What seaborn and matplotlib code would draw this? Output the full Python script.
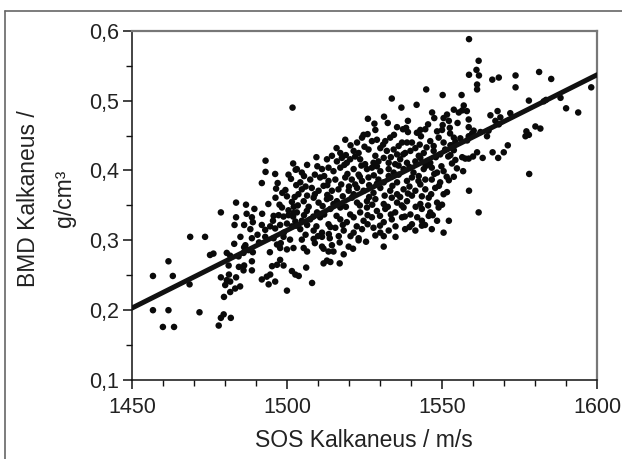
import numpy as np
import pandas as pd
import matplotlib.pyplot as plt
import matplotlib.ticker as mticker
from matplotlib.lines import Line2D
import seaborn as sns

# values (SOS in m/s, BMD in g/cm3) ----
sos = [
    1501.8, 1544.9, 1550.2, 1533.8, 1541.8, 1536.9, 1546.8, 1531.3, 1526.1, 1528.2,
    1550.5, 1550.2, 1537.4, 1538.4, 1543.0, 1544.6, 1541.9, 1524.7, 1548.4, 1550.0,
    1558.7, 1561.8, 1561.1, 1558.7, 1561.9, 1561.3, 1561.3, 1566.2, 1568.3, 1573.7,
    1573.7, 1581.3, 1585.2, 1598.1, 1556.3, 1557.0, 1553.8, 1555.4, 1556.5, 1558.0,
    1551.6, 1552.2, 1558.6, 1578.0, 1582.8, 1583.5, 1588.2, 1590.0, 1593.9, 1567.9,
    1565.6, 1568.8, 1572.0, 1577.2, 1580.1, 1581.7, 1578.0, 1558.6, 1560.2, 1559.7,
    1562.4, 1565.0, 1567.2, 1568.3,
    # left part, upper
    1493.1, 1493.1, 1496.2, 1502.8, 1501.3, 1491.9, 1496.5, 1496.3, 1500.0, 1497.6,
    1498.4, 1501.6, 1502.2, 1483.6, 1486.8, 1478.7, 1483.6, 1483.1, 1486.2, 1488.7,
    1489.0, 1488.2, 1491.9, 1495.7, 1497.3, 1498.9, 1500.5, 1502.1, 1494.6, 1496.2,
    1497.8, 1500.0, 1501.6, 1502.7,
    # left part, lower
    1468.8, 1473.6, 1461.8, 1456.8, 1463.2, 1456.8, 1461.8, 1460.0, 1463.6, 1471.8,
    1468.6, 1475.2, 1476.3, 1478.7, 1481.3, 1480.6, 1481.7, 1480.1, 1483.6, 1479.7,
    1481.7, 1483.3, 1484.9, 1479.6, 1478.7, 1481.9, 1478.0, 1483.0, 1486.6, 1488.7,
    1480.6, 1481.7, 1484.4, 1486.2, 1487.6, 1486.0, 1488.7, 1486.2, 1486.0, 1488.7,
    1481.2, 1493.0, 1495.7, 1498.9, 1501.0, 1496.8, 1497.8, 1500.0, 1502.1, 1495.2,
    1496.8, 1497.8, 1498.9, 1501.6, 1502.7, 1491.9, 1493.5, 1494.6, 1494.1, 1496.2,
    1500.0,
    # middle, lower
    1504.8, 1505.4, 1506.5, 1508.6, 1511.3, 1513.8, 1516.7, 1523.1, 1523.1, 1531.2,
    1531.2, 1511.3, 1511.8, 1513.4, 1515.0, 1518.3, 1519.9, 1521.3, 1506.2, 1503.8,
    1508.1, 1511.8, 1512.9, 1514.0, 1517.0,
    # right part, middle
    1578.1, 1571.2, 1576.9, 1566.3, 1569.9, 1568.1, 1563.1, 1561.3, 1560.0, 1558.6,
    1557.5, 1556.5, 1558.7, 1561.8, 1552.2, 1551.6, 1552.2, 1553.8, 1556.8, 1554.8,
    1553.2, 1554.3, 1552.7, 1553.8, 1552.7, 1554.3, 1555.9, 1558.1, 1553.8, 1558.6,
    1564.5,
    # dense centre
    1518.8, 1522.6, 1524.2, 1527.4, 1529.0, 1531.7, 1533.3, 1537.1, 1538.7, 1540.3,
    1546.2, 1547.3, 1548.9, 1550.5,
    1517.2, 1521.5, 1523.1, 1526.3, 1530.1, 1532.2, 1534.4, 1535.5, 1538.1, 1539.8,
    1541.4, 1544.1, 1547.3, 1549.4, 1551.0,
    1512.9, 1516.1, 1517.7, 1519.3, 1520.4, 1523.6, 1525.2, 1527.9, 1529.5, 1531.2,
    1532.8, 1534.9, 1536.5, 1538.7, 1541.4, 1543.0, 1544.6, 1546.2,
    1503.2, 1504.8, 1511.3, 1513.4, 1515.0, 1517.2, 1521.5, 1523.1, 1525.8, 1527.4,
    1530.1, 1532.8, 1534.4, 1537.6, 1540.8, 1544.1, 1546.7, 1548.4, 1550.5,
    1504.3, 1507.5, 1510.7, 1513.4, 1515.6, 1518.8, 1520.9, 1522.0, 1524.2, 1526.3,
    1529.5, 1531.2, 1532.8, 1535.5, 1538.7, 1540.3, 1542.4, 1544.6, 1546.7, 1549.4,
    1503.7, 1504.8, 1508.0, 1510.2, 1511.8, 1514.5, 1516.6, 1519.9, 1522.6, 1524.7,
    1527.9, 1530.1, 1533.3, 1535.5, 1537.6, 1541.4, 1544.6, 1547.8, 1550.5,
    1505.4, 1508.6, 1510.2, 1512.9, 1514.0, 1516.1, 1517.7, 1520.9, 1522.6, 1525.8,
    1528.5, 1531.2, 1533.8, 1535.5, 1538.7, 1540.3, 1543.0, 1545.7, 1548.4,
    1503.2, 1506.4, 1509.7, 1514.0, 1517.2, 1520.4, 1523.6, 1525.8, 1529.0, 1531.7,
    1534.9, 1537.6, 1539.8, 1543.5, 1546.2, 1548.9,
    1504.8, 1507.5, 1510.7, 1513.4, 1517.2, 1519.3, 1524.7, 1527.4, 1531.2, 1533.8,
    1537.1, 1540.3, 1543.5, 1545.7, 1548.4,
    1504.3, 1508.6, 1511.3, 1515.6, 1518.3, 1521.5, 1524.2, 1527.9, 1530.1, 1532.8,
    1538.1, 1541.4, 1543.5, 1546.7, 1550.5,
    # more points in between, dense centre
    1526.0, 1534.5, 1543.2, 1552.6, 1539.0,
    1520.5, 1525.0, 1531.0, 1536.0, 1542.8, 1545.0, 1553.0, 1516.0,
    1514.5, 1519.0, 1522.0, 1528.5, 1533.5, 1537.5, 1542.5, 1548.0, 1552.0, 1509.5,
    1506.5, 1509.8, 1518.5, 1524.0, 1529.0, 1536.0, 1539.5, 1545.0, 1549.8, 1502.0,
    1505.5, 1509.0, 1512.0, 1519.5, 1523.5, 1528.0, 1536.0, 1542.5, 1547.5, 1551.5, 1500.5,
    1503.0, 1506.0, 1513.0, 1517.5, 1520.0, 1526.5, 1529.0, 1534.0, 1539.5, 1543.0, 1549.0,
    1502.5, 1506.5, 1509.0, 1513.0, 1518.0, 1521.5, 1526.5, 1531.5, 1536.5, 1539.0, 1543.5,
    1546.5, 1498.5,
    1503.5, 1507.0, 1511.5, 1515.0, 1519.0, 1523.5, 1527.5, 1532.5, 1537.0, 1541.5, 1545.5,
    1550.0,
    1502.0, 1505.5, 1508.5, 1512.0, 1516.0, 1521.5, 1526.0, 1530.0, 1533.5, 1538.0, 1542.0,
    1547.0,
    1503.0, 1506.5, 1509.5, 1514.0, 1518.0, 1522.5, 1526.0, 1530.0, 1535.0, 1539.5, 1544.5,
    1506.0, 1510.0, 1513.5, 1517.0, 1520.5, 1525.5, 1528.5, 1535.0, 1509.0, 1514.5,
    # more points, left part
    1489.5, 1492.0, 1494.0, 1490.5, 1493.0, 1495.5, 1499.0, 1491.0, 1485.0, 1487.0,
    1484.5, 1489.0, 1494.5, 1498.0, 1500.5, 1497.0, 1499.5,
    # more points, upper band
    1532.5, 1539.0, 1545.5, 1552.5, 1528.5, 1535.5, 1547.5, 1555.0,
]

bmd = [
    0.490, 0.516, 0.508, 0.503, 0.494, 0.490, 0.483, 0.477, 0.474, 0.467,
    0.475, 0.465, 0.459, 0.461, 0.458, 0.459, 0.454, 0.451, 0.456, 0.458,
    0.588, 0.557, 0.544, 0.537, 0.536, 0.523, 0.516, 0.530, 0.533, 0.536,
    0.519, 0.541, 0.531, 0.519, 0.508, 0.493, 0.487, 0.483, 0.486, 0.485,
    0.480, 0.471, 0.473, 0.500, 0.499, 0.501, 0.504, 0.489, 0.483, 0.485,
    0.479, 0.476, 0.482, 0.456, 0.463, 0.460, 0.451, 0.462, 0.457, 0.453,
    0.455, 0.457, 0.471, 0.466,
    0.414, 0.398, 0.395, 0.401, 0.388, 0.382, 0.374, 0.361, 0.363, 0.351,
    0.347, 0.355, 0.348, 0.354, 0.351, 0.340, 0.333, 0.322, 0.322, 0.333,
    0.326, 0.316, 0.322, 0.335, 0.336, 0.334, 0.336, 0.339, 0.320, 0.317,
    0.322, 0.324, 0.320, 0.327,
    0.305, 0.305, 0.270, 0.249, 0.249, 0.200, 0.200, 0.176, 0.176, 0.197,
    0.237, 0.279, 0.281, 0.247, 0.251, 0.243, 0.241, 0.236, 0.247, 0.219,
    0.226, 0.231, 0.234, 0.194, 0.189, 0.189, 0.178, 0.295, 0.293, 0.303,
    0.282, 0.278, 0.277, 0.290, 0.286, 0.282, 0.270, 0.264, 0.257, 0.257,
    0.264, 0.305, 0.303, 0.305, 0.301, 0.294, 0.289, 0.287, 0.289, 0.263,
    0.265, 0.272, 0.264, 0.256, 0.251, 0.244, 0.248, 0.251, 0.237, 0.241,
    0.228,
    0.301, 0.289, 0.284, 0.302, 0.305, 0.303, 0.306, 0.303, 0.300, 0.306,
    0.291, 0.291, 0.288, 0.284, 0.284, 0.280, 0.291, 0.288, 0.261, 0.249,
    0.239, 0.267, 0.271, 0.269, 0.267,
    0.395, 0.436, 0.449, 0.426, 0.426, 0.418, 0.418, 0.426, 0.420, 0.417,
    0.417, 0.419, 0.371, 0.340, 0.328, 0.369, 0.386, 0.391, 0.399, 0.403,
    0.410, 0.415, 0.422, 0.429, 0.436, 0.441, 0.446, 0.443, 0.447, 0.449,
    0.449,
    0.444, 0.440, 0.447, 0.442, 0.444, 0.442, 0.447, 0.440, 0.440, 0.440,
    0.442, 0.435, 0.447, 0.440,
    0.425, 0.428, 0.425, 0.430, 0.432, 0.428, 0.430, 0.423, 0.425, 0.428,
    0.432, 0.425, 0.428, 0.423, 0.430,
    0.416, 0.413, 0.418, 0.411, 0.416, 0.416, 0.409, 0.411, 0.413, 0.418,
    0.411, 0.409, 0.416, 0.411, 0.413, 0.418, 0.409, 0.411,
    0.402, 0.397, 0.402, 0.404, 0.399, 0.404, 0.402, 0.394, 0.402, 0.404,
    0.399, 0.402, 0.397, 0.402, 0.397, 0.402, 0.404, 0.397, 0.399,
    0.383, 0.387, 0.390, 0.385, 0.387, 0.390, 0.387, 0.380, 0.385, 0.390,
    0.387, 0.383, 0.392, 0.383, 0.385, 0.390, 0.385, 0.387, 0.387, 0.383,
    0.366, 0.373, 0.375, 0.371, 0.378, 0.371, 0.373, 0.371, 0.375, 0.371,
    0.368, 0.375, 0.371, 0.366, 0.373, 0.371, 0.373, 0.375, 0.366,
    0.356, 0.361, 0.354, 0.359, 0.361, 0.356, 0.352, 0.361, 0.354, 0.356,
    0.359, 0.352, 0.361, 0.354, 0.356, 0.364, 0.352, 0.361, 0.354,
    0.340, 0.342, 0.340, 0.345, 0.347, 0.337, 0.340, 0.347, 0.342, 0.345,
    0.340, 0.347, 0.337, 0.345, 0.340, 0.347,
    0.328, 0.330, 0.333, 0.323, 0.330, 0.326, 0.328, 0.333, 0.326, 0.330,
    0.333, 0.323, 0.328, 0.335, 0.328,
    0.316, 0.314, 0.311, 0.318, 0.314, 0.311, 0.316, 0.318, 0.311, 0.314,
    0.316, 0.314, 0.321, 0.316, 0.311,
    # more points in between, dense centre
    0.452, 0.451, 0.449, 0.453, 0.455,
    0.436, 0.434, 0.437, 0.435, 0.437, 0.433, 0.436, 0.432,
    0.421, 0.422, 0.420, 0.421, 0.419, 0.423, 0.421, 0.419, 0.420, 0.419,
    0.408, 0.406, 0.408, 0.407, 0.406, 0.407, 0.405, 0.407, 0.406, 0.410,
    0.392, 0.394, 0.392, 0.395, 0.391, 0.393, 0.394, 0.392, 0.395, 0.391, 0.394,
    0.379, 0.377, 0.379, 0.380, 0.377, 0.379, 0.381, 0.378, 0.377, 0.380, 0.378,
    0.362, 0.364, 0.366, 0.365, 0.363, 0.366, 0.362, 0.364, 0.362, 0.367, 0.363,
    0.366, 0.368,
    0.350, 0.348, 0.349, 0.352, 0.348, 0.350, 0.351, 0.348, 0.350, 0.348, 0.350,
    0.351,
    0.334, 0.336, 0.334, 0.337, 0.335, 0.333, 0.336, 0.335, 0.337, 0.334, 0.333,
    0.336,
    0.321, 0.322, 0.320, 0.319, 0.322, 0.320, 0.323, 0.321, 0.320, 0.319, 0.322,
    0.308, 0.306, 0.309, 0.297, 0.306, 0.298, 0.307, 0.305, 0.296, 0.293,
    # more points, left part
    0.345, 0.338, 0.352, 0.308, 0.315, 0.328, 0.311, 0.297, 0.305, 0.338,
    0.262, 0.283, 0.283, 0.296, 0.343, 0.382, 0.372,
    # more points, upper band
    0.468, 0.471, 0.466, 0.461, 0.458, 0.462, 0.475, 0.468,
]

# regression line, end points
line_sos = [1450, 1600]
line_bmd = [0.203, 0.537]

df = pd.DataFrame({'sos': sos, 'bmd': bmd})
line_df = pd.DataFrame({'sos': line_sos, 'bmd': line_bmd})

sns.set_style("ticks")
plt.rcParams['font.family'] = ['Liberation Sans', 'DejaVu Sans']

fig = plt.figure(figsize=(6.22, 4.59), dpi=100)
ax = fig.add_axes([0.212, 0.172, 0.748, 0.761])

sns.scatterplot(data=df, x='sos', y='bmd', ax=ax, color='#0a0a0a', s=22,
                edgecolor='none', zorder=3)
sns.lineplot(data=line_df, x='sos', y='bmd', ax=ax, color='#111111', lw=3.6,
             zorder=4)

ax.set_xlim(1450, 1600)
ax.set_ylim(0.1, 0.6)
ax.xaxis.set_major_locator(mticker.MultipleLocator(50))
ax.xaxis.set_minor_locator(mticker.MultipleLocator(10))
ax.yaxis.set_major_locator(mticker.MultipleLocator(0.1))
ax.yaxis.set_minor_locator(mticker.MultipleLocator(0.05))
ax.yaxis.set_major_formatter(mticker.FuncFormatter(lambda v, p: f"{v:.1f}".replace('.', ',')))

ax.tick_params(which='major', direction='out', length=6.5, width=1.1,
               labelsize=15.5, color='#111111', labelcolor='#222222')
ax.tick_params(axis='x', which='major', pad=6)
ax.tick_params(axis='y', which='major', pad=3)
ax.tick_params(which='minor', direction='out', length=4, width=1.0, color='#111111')

for side in ['left', 'bottom']:
    ax.spines[side].set_color('#111111')
    ax.spines[side].set_linewidth(1.1)
for side in ['top', 'right']:
    ax.spines[side].set_visible(True)
    ax.spines[side].set_color('#777777')
    ax.spines[side].set_linewidth(1.6)

ax.set_xlabel('SOS Kalkaneus / m/s', fontsize=16.5, color='#222222')
ax.xaxis.set_label_coords(0.499, -0.172)
ax.xaxis.label.set_va('center')
ax.set_ylabel('BMD Kalkaneus /\ng/cm³', fontsize=16.5, color='#222222',
              linespacing=1.75)
ax.yaxis.label.set_va('center')
ax.yaxis.set_label_coords(-0.183, 0.52)

# outer frame of the picture (top and left edges)
fig.add_artist(Line2D([5 / 622, 1.0], [1 - 11 / 459, 1 - 11 / 459],
                      transform=fig.transFigure, color='#666666', lw=1.2))
fig.add_artist(Line2D([5 / 622, 5 / 622], [0.0, 1 - 11 / 459],
                      transform=fig.transFigure, color='#666666', lw=1.2))

fig.savefig('out.png', dpi=100)
